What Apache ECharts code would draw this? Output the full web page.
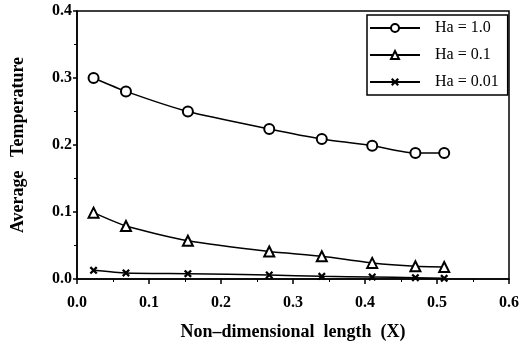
<!DOCTYPE html>
<html>
<head>
<meta charset="utf-8">
<script src="https://cdn.jsdelivr.net/npm/echarts@6/dist/echarts.min.js"></script>
<style>
  html, body { margin: 0; padding: 0; background: #fff; }
  #chart { width: 522px; height: 346px; }
</style>
</head>
<body>
<div id="chart"></div>
<script>
// x positions (non-dimensional length)
var xValues = [0.023, 0.068, 0.154, 0.267, 0.34, 0.41, 0.47, 0.51];
var seriesNames = ['Ha = 1.0', 'Ha = 0.1', 'Ha = 0.01'];
var ha10 = [0.300, 0.280, 0.250, 0.224, 0.209, 0.199, 0.188, 0.188];
var ha01 = [0.099, 0.079, 0.057, 0.041, 0.034, 0.024, 0.019, 0.018];
var ha001 = [0.013, 0.009, 0.008, 0.006, 0.004, 0.003, 0.002, 0.001];

var crossMark = 'path://M0,2L2,0L5,3L8,0L10,2L7,5L10,8L8,10L5,7L2,10L0,8L3,5Z';
var serif = 'Liberation Serif';

function pairs(ys) {
    var out = [];
    for (var i = 0; i < xValues.length; i++) {
        out.push([xValues[i], ys[i]]);
    }
    return out;
}

var chart = echarts.init(document.getElementById('chart'));

function lineSeries(name, ys, symbol, size) {
    return {
        name: name,
        type: 'line',
        data: pairs(ys),
        smooth: 0.2,
        symbol: symbol,
        symbolSize: size,
        showAllSymbol: true,
        lineStyle: { color: '#000', width: 1.5, type: 'solid' },
        itemStyle: { color: '#000', borderWidth: 1.5 },
        emphasis: { disabled: true },
        animation: false
    };
}

var option = {
    backgroundColor: '#fff',
    grid: {
        left: 77, right: 12, top: 11, bottom: 65,
        show: true, borderColor: '#000', borderWidth: 1.5
    },
    legend: {
        orient: 'vertical',
        left: 367, top: 15,
        padding: [5, 9, 5, 2],
        itemGap: 11,
        itemWidth: 50,
        itemHeight: 10,
        borderColor: '#000',
        borderWidth: 1.5,
        backgroundColor: '#fff',
        textStyle: { fontFamily: serif, fontSize: 16, color: '#000', padding: [0, 0, 0, 10] },
        data: seriesNames
    },
    xAxis: {
        type: 'value',
        min: 0, max: 0.6, interval: 0.1,
        name: 'Non\u2013dimensional  length  (X)',
        nameLocation: 'middle',
        nameGap: 44,
        nameTextStyle: { fontFamily: serif, fontWeight: 'bold', fontSize: 18, color: '#000' },
        axisLine: { lineStyle: { color: '#000', width: 1.5 } },
        axisTick: { length: 5, lineStyle: { color: '#000', width: 1.5 } },
        minorTick: { show: true, splitNumber: 2, length: 3, lineStyle: { color: '#000', width: 1 } },
        splitLine: { show: false },
        axisLabel: {
            margin: 16,
            fontFamily: serif, fontWeight: 'bold', fontSize: 16, color: '#000',
            formatter: function (v) { return v.toFixed(1); }
        }
    },
    yAxis: {
        type: 'value',
        min: 0, max: 0.4, interval: 0.1,
        name: 'Average   Temperature',
        nameLocation: 'middle',
        nameGap: 50,
        nameTextStyle: { fontFamily: serif, fontWeight: 'bold', fontSize: 18, color: '#000' },
        axisLine: { lineStyle: { color: '#000', width: 1.5 } },
        axisTick: { length: 4, lineStyle: { color: '#000', width: 1.5 } },
        minorTick: { show: true, splitNumber: 2, length: 3, lineStyle: { color: '#000', width: 1 } },
        splitLine: { show: false },
        axisLabel: {
            margin: 5,
            fontFamily: serif, fontWeight: 'bold', fontSize: 16, color: '#000',
            formatter: function (v) { return v.toFixed(1); }
        }
    },
    series: [
        lineSeries(seriesNames[0], ha10, 'emptyCircle', 10),
        lineSeries(seriesNames[1], ha01, 'emptyTriangle', 10),
        lineSeries(seriesNames[2], ha001, crossMark, 8)
    ]
};

chart.setOption(option);
</script>
</body>
</html>
